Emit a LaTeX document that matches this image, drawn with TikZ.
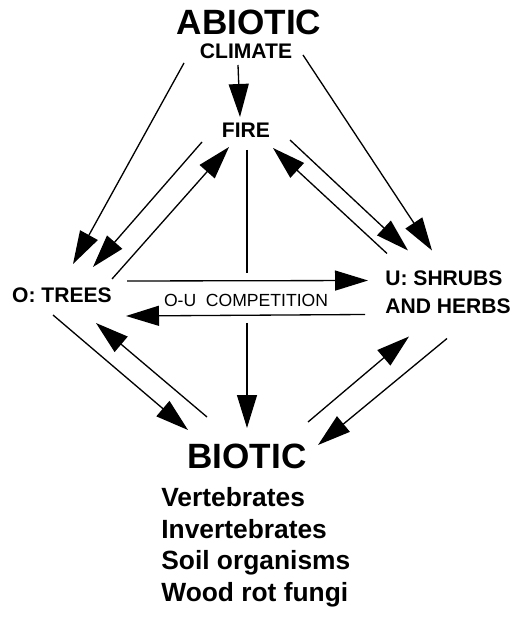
\documentclass[tikz,border=0pt]{standalone}
\usepackage{fontspec}
\setmainfont{Liberation Sans}
\usepackage{tikz}
\usetikzlibrary{arrows.meta}
\tikzset{%
	level/.style  = {font=\fontsize{20}{24}\selectfont\bfseries, inner sep=0pt},
	factor/.style = {font=\fontsize{12}{16}\selectfont\bfseries, inner sep=0pt},
	remark/.style = {font=\fontsize{10}{12}\selectfont, inner sep=0pt},
	link/.style   = {line width=0.75pt, -{Triangle[length=0.66cm,width=0.4cm]}},
}
\begin{document}
\begin{tikzpicture}[x=0.02cm,y=-0.02cm]
	\useasboundingbox (0,0) rectangle (517,617);
	% abiotic part
	\node[level]  (abiotic) at (249,22) {ABIOTIC};
	\node[factor] (climate) at (246,51) {CLIMATE};
	\node[factor] (fire)    at (246,130) {FIRE};
	% overstory and understory
	\node[factor] (trees)   at (62,295) {O: TREES};
	\node[factor, anchor=west, align=left] (shrubs) at (385,292.5) {U: SHRUBS\\AND HERBS};
	\node[remark] (compet)  at (246,300) {O-U\ \ COMPETITION};
	% biotic part
	\node[level]  (biotic)  at (247,456) {BIOTIC};
	\node[font=\fontsize{15}{18}\selectfont\bfseries, inner sep=0pt, anchor=north west, align=left] (groups) at (161,487) {Vertebrates\\Invertebrates\\Soil organisms\\Wood rot fungi};
	% arrows from the top
	\draw[link] ([shift={(-8,14)}]climate.center) -- ([shift={(-6,-13)}]fire.center);
	\draw[link] ([shift={(-62,12)}]climate.center) -- ([shift={(11,-31)}]trees.center);
	\draw[link] ([shift={(-44,12)}]fire.center) -- ([shift={(31,-28)}]trees.center);
	\draw[link] ([shift={(50,-16)}]trees.center) -- ([shift={(-17,17)}]fire.center);
	\draw[link] ([shift={(57,4)}]climate.center) -- ([shift={(47,-42)}]shrubs.west);
	\draw[link] ([shift={(44,10)}]fire.center) -- ([shift={(23,-42)}]shrubs.west);
	\draw[link] ([shift={(2,-39)}]shrubs.west) -- ([shift={(27,18)}]fire.center);
	% competition
	\draw[link] ([shift={(65,-14)}]trees.center) -- ([shift={(-17,-12)}]shrubs.west);
	\draw[link] ([shift={(-20,22)}]shrubs.west) -- ([shift={(64,21)}]trees.center);
	% arrows to and from the bottom (fire line broken at the competition arrows)
	\draw[link] ([shift={(1,20)}]fire.center) -- ++(0,123) ++(0,50) -- ([shift={(0,-28)}]biotic.center);
	\draw[link] ([shift={(-9,20)}]trees.center) -- ([shift={(-59,-26)}]biotic.center);
	\draw[link] ([shift={(-40,-39)}]biotic.center) -- ([shift={(34,28)}]trees.center);
	\draw[link] ([shift={(61,-34)}]biotic.center) -- ([shift={(24,44)}]shrubs.west);
	\draw[link] ([shift={(62,46)}]shrubs.west) -- ([shift={(71,-11)}]biotic.center);
\end{tikzpicture}
\end{document}
